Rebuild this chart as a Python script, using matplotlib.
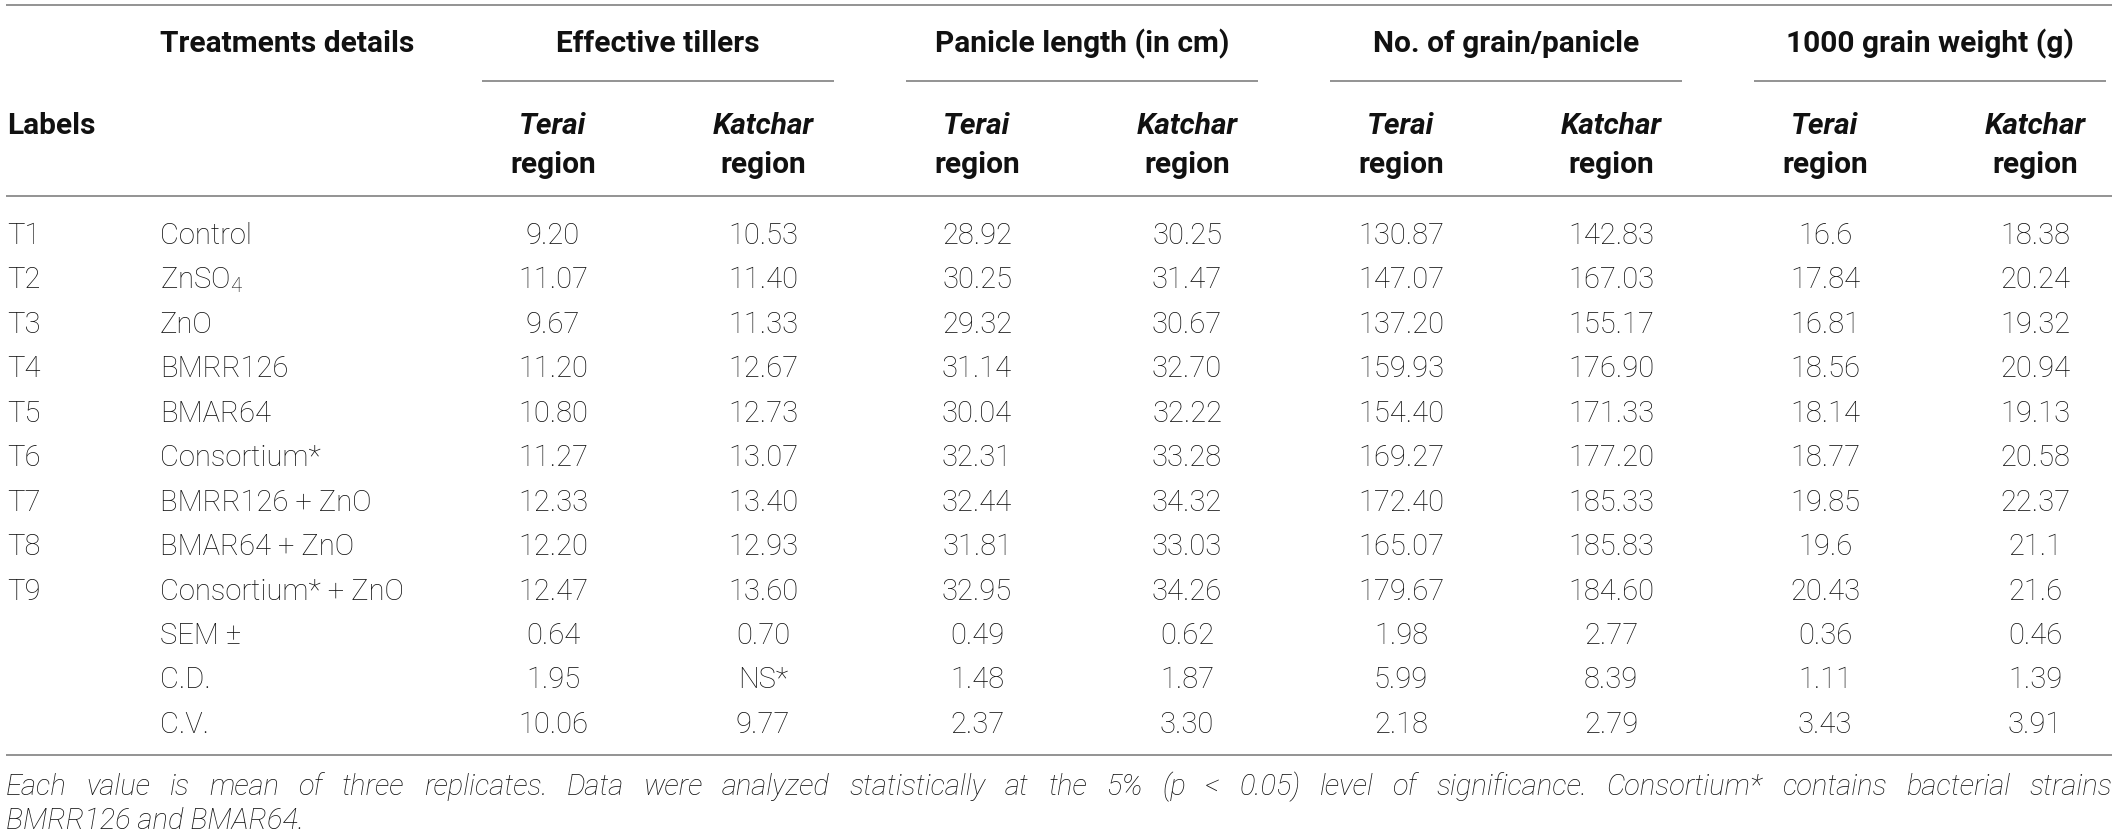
import matplotlib
matplotlib.use('Agg')
import matplotlib.pyplot as plt

# table contents
labels = ['T1', 'T2', 'T3', 'T4', 'T5', 'T6', 'T7', 'T8', 'T9', '', '', '']
treatments = ['Control', 'ZnSO$_4$', 'ZnO', 'BMRR126', 'BMAR64', 'Consortium*',
              'BMRR126 + ZnO', 'BMAR64 + ZnO', 'Consortium* + ZnO', 'SEM ±', 'C.D.', 'C.V.']
groups = ['Effective tillers', 'Panicle length (in cm)', 'No. of grain/panicle', '1000 grain weight (g)']
regions = ['Terai', 'Katchar']

tillers_terai = ['9.20', '11.07', '9.67', '11.20', '10.80', '11.27', '12.33', '12.20', '12.47', '0.64', '1.95', '10.06']
tillers_katchar = ['10.53', '11.40', '11.33', '12.67', '12.73', '13.07', '13.40', '12.93', '13.60', '0.70', 'NS*', '9.77']
panicle_terai = ['28.92', '30.25', '29.32', '31.14', '30.04', '32.31', '32.44', '31.81', '32.95', '0.49', '1.48', '2.37']
panicle_katchar = ['30.25', '31.47', '30.67', '32.70', '32.22', '33.28', '34.32', '33.03', '34.26', '0.62', '1.87', '3.30']
grain_terai = ['130.87', '147.07', '137.20', '159.93', '154.40', '169.27', '172.40', '165.07', '179.67', '1.98', '5.99', '2.18']
grain_katchar = ['142.83', '167.03', '155.17', '176.90', '171.33', '177.20', '185.33', '185.83', '184.60', '2.77', '8.39', '2.79']
weight_terai = ['16.6', '17.84', '16.81', '18.56', '18.14', '18.77', '19.85', '19.6', '20.43', '0.36', '1.11', '3.43']
weight_katchar = ['18.38', '20.24', '19.32', '20.94', '19.13', '20.58', '22.37', '21.1', '21.6', '0.46', '1.39', '3.91']

footnote = ('Each value is mean of three replicates. Data were analyzed statistically at the 5% '
            '(p < 0.05) level of significance. Consortium* contains bacterial strains')
footnote2 = 'BMRR126 and BMAR64.'

columns = [tillers_terai, tillers_katchar, panicle_terai, panicle_katchar,
           grain_terai, grain_katchar, weight_terai, weight_katchar]

plt.rcParams['font.family'] = ['Roboto', 'DejaVu Sans']
plt.rcParams['mathtext.fontset'] = 'custom'
plt.rcParams['mathtext.rm'] = 'Roboto:light'
plt.rcParams['mathtext.it'] = 'Roboto:italic:light'

W, H = 2118, 837
fig = plt.figure(figsize=(W / 100, H / 100), dpi=100)
ax = fig.add_axes([0, 0, 1, 1])
ax.set_xlim(0, W)
ax.set_ylim(H, 0)
ax.axis('off')

ink = '#111111'
rule = '#8a8a8a'
fs = 21
x_left, x_right = 6, 2112
x_label, x_treat = 7, 160
group_c0, group_step, half = 658, 424, 105

# rules
for y in (6, 197, 756):
    ax.plot([x_left, x_right], [y, y], color=rule, lw=1.3, solid_capstyle='butt')
for g in range(len(groups)):
    c = group_c0 + g * group_step
    ax.plot([c - 176, c + 176], [82, 82], color=rule, lw=1.3, solid_capstyle='butt')

# header
ax.text(x_treat, 52, 'Treatments details', fontsize=fs + 0.5, fontweight='bold', color=ink, va='baseline')
ax.text(x_label, 134, 'Labels', fontsize=fs + 0.5, fontweight='bold', color=ink, va='baseline')
for g, name in enumerate(groups):
    c = group_c0 + g * group_step
    ax.text(c, 52, name, fontsize=fs + 0.5, fontweight='bold', color=ink, ha='center', va='baseline')
    for k, reg in enumerate(regions):
        xc = c + (2 * k - 1) * half
        ax.text(xc, 134, reg, fontsize=fs + 0.5, fontweight='bold', style='italic', color=ink,
                ha='center', va='baseline')
        ax.text(xc, 173, 'region', fontsize=fs + 0.5, fontweight='bold', color=ink, ha='center', va='baseline')

# body
row0, row_step = 244, 44.45
for i in range(len(treatments)):
    yb = row0 + i * row_step
    ax.text(x_label, yb, labels[i], fontsize=fs, fontweight='light', color=ink, va='baseline')
    ax.text(x_treat, yb, treatments[i], fontsize=fs, fontweight='light', color=ink, va='baseline')
    for j, col in enumerate(columns):
        xc = group_c0 + (j // 2) * group_step + (2 * (j % 2) - 1) * half
        ax.text(xc, yb, col[i], fontsize=fs, fontweight='light', color=ink, ha='center', va='baseline')

# footnote, first line justified across the table width
renderer = fig.canvas.get_renderer()
words = footnote.split(' ')
arts = [ax.text(0, 795, w, fontsize=fs, fontweight='light', style='italic', color=ink, va='baseline')
        for w in words]
widths = [a.get_window_extent(renderer).width * W / fig.bbox.width for a in arts]
gap = (x_right - x_left - sum(widths)) / (len(words) - 1)
x = x_left
for a, w in zip(arts, widths):
    a.set_x(x)
    x += w + gap
ax.text(x_left, 829, footnote2, fontsize=fs, fontweight='light', style='italic', color=ink, va='baseline')

fig.savefig('out.png', dpi=100)
